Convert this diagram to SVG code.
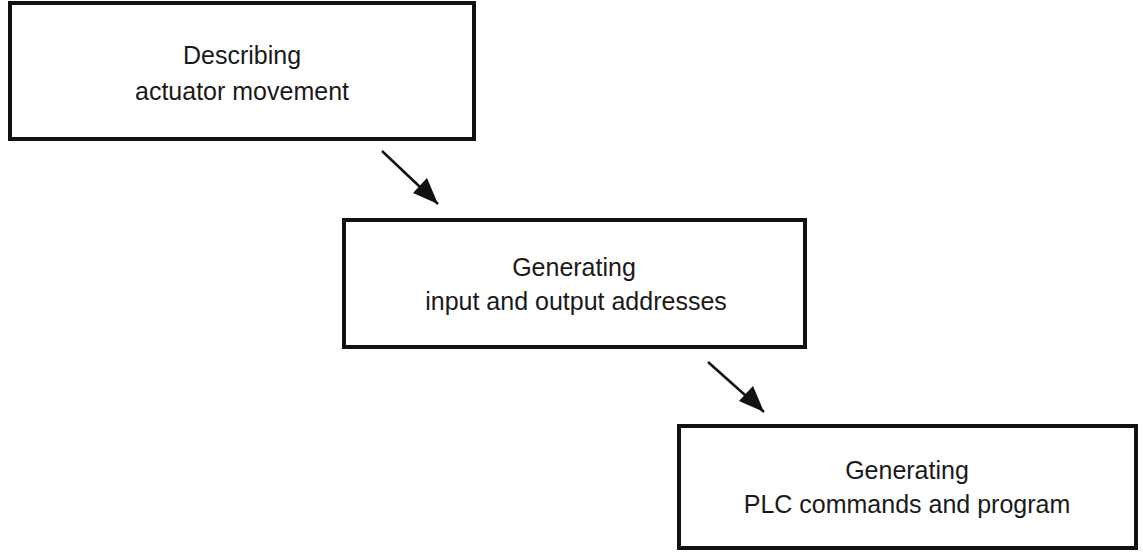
<svg xmlns="http://www.w3.org/2000/svg" width="1143" height="559" viewBox="0 0 1143 559">
<style>
.b{fill:#fff;stroke:#111;stroke-width:4}
text{font-family:"Liberation Sans",Arial,sans-serif;font-size:25px;fill:#1a1a1a;text-anchor:middle}
</style>
<rect width="1143" height="559" fill="#fff"/>
<g id="n1"><rect class="b" x="10" y="3" width="464" height="136"/><text x="242" y="64">Describing</text><text x="242" y="100">actuator movement</text></g>
<g id="n2"><rect class="b" x="344" y="220" width="461" height="127"/><text x="574" y="276">Generating</text><text x="576" y="310">input and output addresses</text></g>
<g id="n3"><rect class="b" x="679" y="426" width="457" height="122"/><text x="907" y="479">Generating</text><text x="907" y="513">PLC commands and program</text></g>
<g id="connectors">
<path d="M382,151L438,204" stroke="#111" stroke-width="2.5"/>
<polygon points="438,204 413,193 427,178" fill="#111"/>
<path d="M708,362L764,412" stroke="#111" stroke-width="2.5"/>
<polygon points="764,412 739,401 753,386" fill="#111"/>
</g>
</svg>
